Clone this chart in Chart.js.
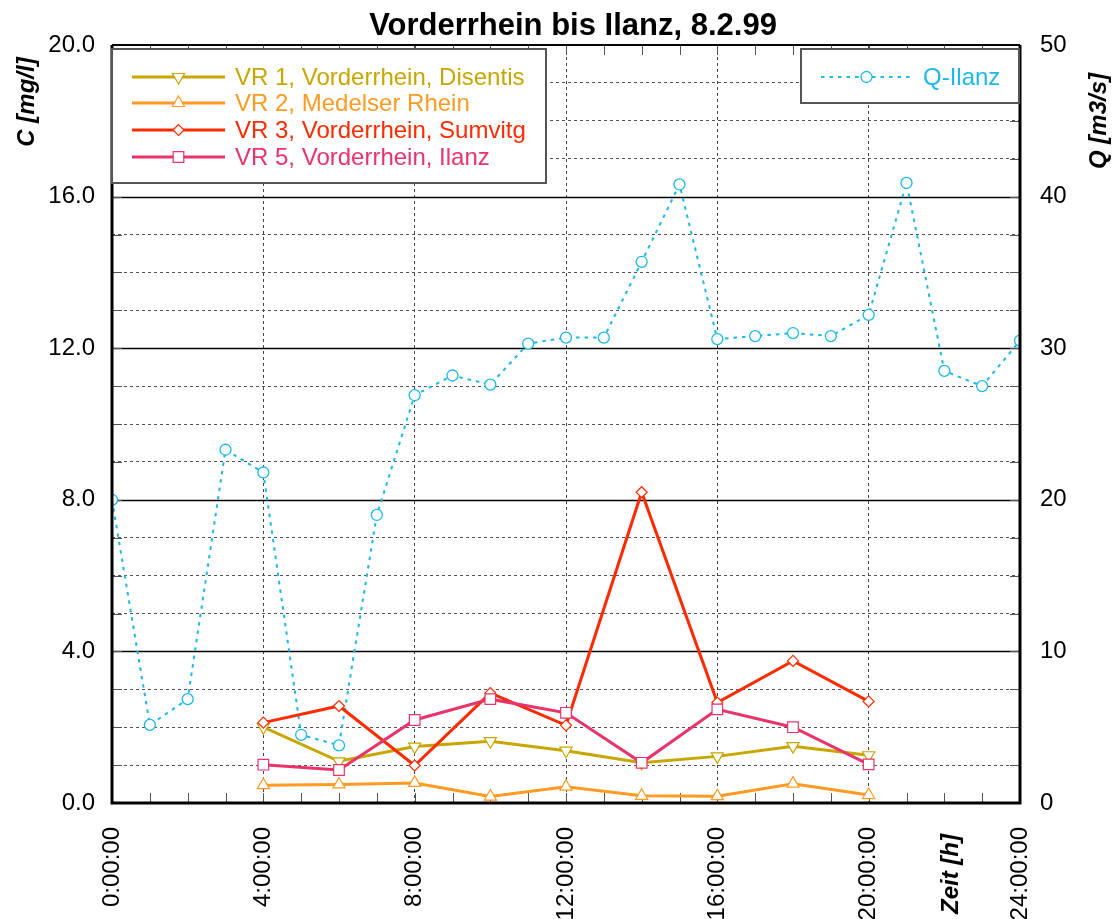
<!DOCTYPE html>
<html>
<head>
<meta charset="utf-8">
<title>Vorderrhein bis Ilanz, 8.2.99</title>
<script src="https://cdn.jsdelivr.net/npm/chart.js@4.4.1/dist/chart.umd.min.js"></script>
<style>
  html, body { margin: 0; padding: 0; background: #fff; }
  canvas { display: block; }
</style>
</head>
<body>
<canvas id="chart" width="1120" height="919"></canvas>
<script>
// Abfluss Ilanz (stündlich) und Schwebstoff-Konzentrationen (alle 2 h)
const hoursQ = [0, 1, 2, 3, 4, 5, 6, 7, 8, 9, 10, 11, 12, 13, 14, 15, 16, 17, 18, 19, 20, 21, 22, 23, 24];
const qIlanz = [20.0, 5.15, 6.85, 23.3, 21.8, 4.5, 3.8, 19.0, 26.9, 28.2, 27.6, 30.3, 30.7, 30.7,
                35.7, 40.8, 30.6, 30.8, 31.0, 30.8, 32.2, 40.9, 28.5, 27.5, 30.5];

const hoursC = [4, 6, 8, 10, 12, 14, 16, 18, 20];
const vr1 = [2.0, 1.1, 1.49, 1.63, 1.38, 1.06, 1.23, 1.5, 1.26];
const vr2 = [0.47, 0.49, 0.53, 0.17, 0.43, 0.19, 0.18, 0.51, 0.21];
const vr3 = [2.12, 2.56, 0.99, 2.9, 2.05, 8.2, 2.65, 3.75, 2.68];
const vr5 = [1.01, 0.87, 2.19, 2.74, 2.38, 1.06, 2.47, 2.0, 1.02];

const FONT = "'Liberation Sans', Arial, Helvetica, sans-serif";

const pts = (xs, ys) => xs.map((x, i) => ({ x: x, y: ys[i] }));

function concSeries(label, values, color, style, radius, rotation, order) {
  return {
    label: label,
    data: pts(hoursC, values),
    yAxisID: 'yC',
    borderColor: color,
    borderWidth: 3,
    pointStyle: style,
    pointRadius: radius,
    pointRotation: rotation,
    pointBackgroundColor: '#fff',
    pointBorderColor: color,
    pointBorderWidth: 1.2,
    tension: 0,
    order: order
  };
}

const datasets = [
  concSeries('VR 1, Vorderrhein, Disentis', vr1, '#c8a600', 'triangle', 7, 180, 3),
  concSeries('VR 2, Medelser Rhein', vr2, '#ff9a22', 'triangle', 7, 0, 4),
  concSeries('VR 3, Vorderrhein, Sumvitg', vr3, '#ff2a00', 'rectRot', 5.5, 0, 2),
  concSeries('VR 5, Vorderrhein, Ilanz', vr5, '#e8336b', 'rect', 7.5, 0, 1),
  {
    label: 'Q-Ilanz',
    data: pts(hoursQ, qIlanz),
    yAxisID: 'yQ',
    borderColor: '#1cb8e8',
    borderWidth: 2,
    borderDash: [3.5, 5],
    pointStyle: 'circle',
    pointRadius: 5.5,
    pointBackgroundColor: '#fff',
    pointBorderColor: '#1cb8e8',
    pointBorderWidth: 1.3,
    tension: 0,
    order: 5
  }
];

// Rahmen, Hauptlinien, Innenticks, Legenden und Achsentitel
const decorations = {
  id: 'decorations',
  beforeDatasetsDraw(chart) {
    const { ctx, chartArea: a, scales } = chart;
    const x = scales.x, yC = scales.yC;
    ctx.save();
    // Hauptlinien bei 4.0, 8.0, ...
    ctx.strokeStyle = '#000';
    ctx.lineWidth = 1.5;
    for (let v = 4; v < 20; v += 4) {
      const py = Math.round(yC.getPixelForValue(v)) + 0.5;
      ctx.beginPath(); ctx.moveTo(a.left, py); ctx.lineTo(a.right, py); ctx.stroke();
    }
    // Stundenticks oben und unten
    ctx.strokeStyle = '#555';
    ctx.lineWidth = 1;
    for (let h = 1; h < 24; h++) {
      const px = Math.round(x.getPixelForValue(h)) + 0.5;
      ctx.beginPath();
      ctx.moveTo(px, a.bottom); ctx.lineTo(px, a.bottom - 10);
      ctx.moveTo(px, a.top); ctx.lineTo(px, a.top + 10);
      ctx.stroke();
    }
    // Ticks links und rechts
    for (let v = 1; v < 20; v++) {
      const py = Math.round(yC.getPixelForValue(v)) + 0.5;
      ctx.beginPath();
      ctx.moveTo(a.left, py); ctx.lineTo(a.left + 10, py);
      ctx.moveTo(a.right, py); ctx.lineTo(a.right - 10, py);
      ctx.stroke();
    }
    ctx.restore();
  },
  afterDraw(chart) {
    const { ctx, chartArea: a } = chart;
    ctx.save();
    // Rahmen
    ctx.strokeStyle = '#000';
    ctx.lineWidth = 2;
    ctx.beginPath(); ctx.moveTo(a.left, a.top); ctx.lineTo(a.right, a.top); ctx.stroke();
    ctx.lineWidth = 3;
    ctx.beginPath();
    ctx.moveTo(a.left, a.top); ctx.lineTo(a.left, a.bottom); ctx.lineTo(a.right, a.bottom); ctx.lineTo(a.right, a.top);
    ctx.stroke();

    // Legenden
    const drawLegend = (items, box, sampleX0, sampleX1, textX, rowY) => {
      ctx.fillStyle = '#fff';
      ctx.fillRect(box.x, box.y, box.w, box.h);
      ctx.strokeStyle = '#555';
      ctx.lineWidth = 2;
      ctx.strokeRect(box.x, box.y, box.w, box.h);
      items.forEach((ds, i) => {
        const y = rowY[i];
        ctx.save();
        ctx.strokeStyle = ds.borderColor;
        ctx.lineWidth = ds.borderWidth;
        ctx.setLineDash(ds.borderDash || []);
        ctx.beginPath(); ctx.moveTo(sampleX0, y); ctx.lineTo(sampleX1, y); ctx.stroke();
        ctx.setLineDash([]);
        ctx.fillStyle = '#fff';
        ctx.strokeStyle = ds.pointBorderColor;
        ctx.lineWidth = ds.pointBorderWidth;
        Chart.helpers.drawPoint(ctx, {
          pointStyle: ds.pointStyle,
          radius: ds.pointRadius,
          rotation: ds.pointRotation || 0,
          borderWidth: ds.pointBorderWidth
        }, (sampleX0 + sampleX1) / 2, y);
        ctx.restore();
        ctx.fillStyle = ds.borderColor;
        ctx.font = '24px ' + FONT;
        ctx.textAlign = 'left';
        ctx.textBaseline = 'middle';
        ctx.fillText(ds.label, textX, y + 1);
      });
    };
    drawLegend(datasets.slice(0, 4), { x: 112, y: 49, w: 434, h: 134 }, 132, 225, 235, [77, 103, 130, 157]);
    drawLegend(datasets.slice(4), { x: 801, y: 49, w: 218, h: 54 }, 821, 912, 923, [77]);

    // Titel
    ctx.fillStyle = '#000';
    ctx.textAlign = 'center';
    ctx.textBaseline = 'alphabetic';
    ctx.font = 'bold 31px ' + FONT;
    ctx.fillText('Vorderrhein bis Ilanz, 8.2.99', 573, 35);

    // Achsentitel (gedreht)
    const vText = (txt, cx, cy) => {
      ctx.save();
      ctx.translate(cx, cy);
      ctx.rotate(-Math.PI / 2);
      ctx.font = 'italic bold 24px ' + FONT;
      ctx.textAlign = 'center';
      ctx.textBaseline = 'middle';
      ctx.fillStyle = '#000';
      ctx.fillText(txt, 0, 0);
      ctx.restore();
    };
    vText('C [mg/l]', 27, 102);
    vText('Q [m3/s]', 1099, 121);
    vText('Zeit [h]', 951, 874);
    ctx.restore();
  }
};

new Chart(document.getElementById('chart'), {
  type: 'line',
  data: { datasets: datasets },
  options: {
    responsive: false,
    animation: false,
    devicePixelRatio: 1,
    layout: { padding: { top: 45, left: 0, right: 0, bottom: 0 } },
    plugins: {
      legend: { display: false },
      title: { display: false },
      tooltip: { enabled: false }
    },
    scales: {
      x: {
        type: 'linear',
        min: 0,
        max: 24,
        afterFit: s => { s.height = 116; },
        ticks: {
          stepSize: 4,
          minRotation: 90,
          maxRotation: 90,
          padding: 24,
          color: '#000',
          font: { family: FONT, size: 24 },
          callback: v => v + ':00:00'
        },
        grid: {
          drawTicks: false,
          color: c => (c.tick && (c.tick.value === 0 || c.tick.value === 24)) ? 'rgba(0,0,0,0)' : '#444',
          lineWidth: 1
        },
        border: { display: false, dash: [3, 3] }
      },
      yC: {
        type: 'linear',
        position: 'left',
        min: 0,
        max: 20,
        afterFit: s => { s.width = 112; },
        ticks: {
          stepSize: 1,
          autoSkip: false,
          padding: 17,
          color: '#000',
          font: { family: FONT, size: 24 },
          callback: v => (v % 4 === 0 ? v.toFixed(1) : '')
        },
        grid: {
          drawTicks: false,
          color: c => (c.tick && c.tick.value % 4 === 0) ? 'rgba(0,0,0,0)' : '#555',
          lineWidth: 1
        },
        border: { display: false, dash: [3, 3] }
      },
      yQ: {
        type: 'linear',
        position: 'right',
        min: 0,
        max: 50,
        afterFit: s => { s.width = 100; },
        ticks: {
          stepSize: 10,
          padding: 20,
          color: '#000',
          font: { family: FONT, size: 24 },
          callback: v => String(v)
        },
        grid: { display: false, drawTicks: false },
        border: { display: false }
      }
    }
  },
  plugins: [decorations]
});
</script>
</body>
</html>
